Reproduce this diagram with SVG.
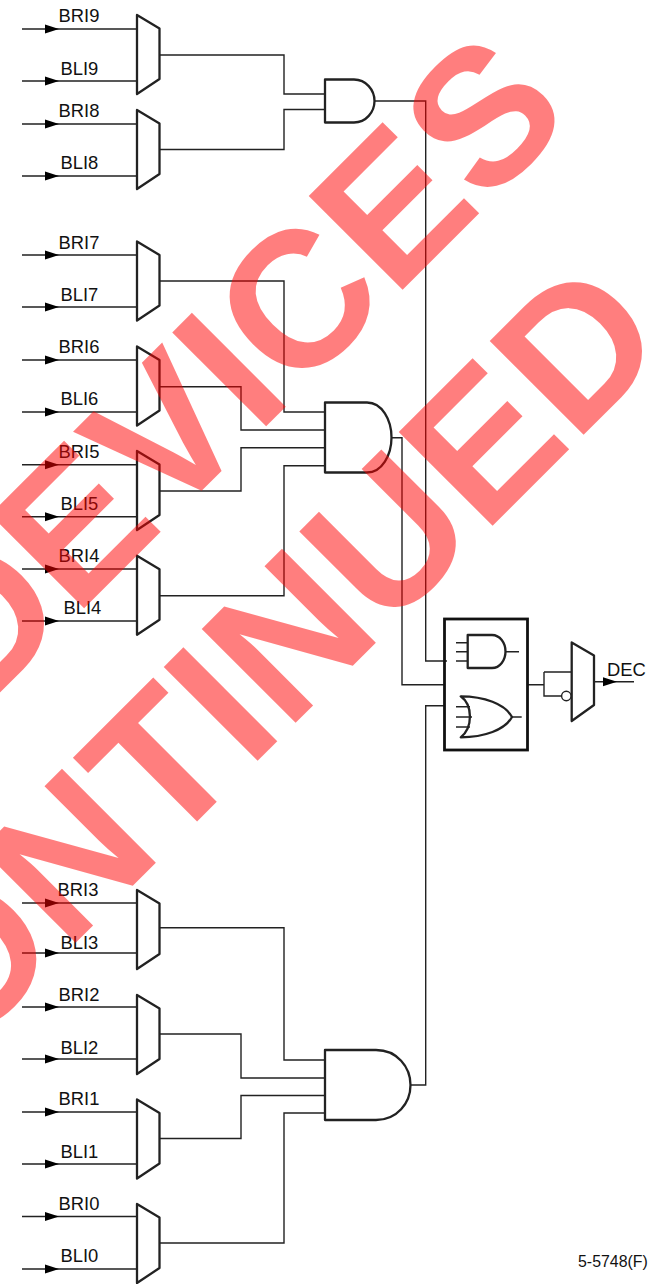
<svg xmlns="http://www.w3.org/2000/svg" width="655" height="1284" viewBox="0 0 655 1284">
<style>
text{font-family:"Liberation Sans",Arial,sans-serif;fill:#111}
.l{font-size:18.400px}
.w{fill:none;stroke:#222;stroke-width:1.4}
.g{fill:none;stroke:#222;stroke-width:2.3;stroke-linejoin:round}
.b{fill:none;stroke:#111;stroke-width:2.800}
.a{fill:#000}
.wm{font-family:"Liberation Sans",Arial,sans-serif;font-weight:700;font-size:193px;fill:#ff0000;opacity:.5}
</style>
<defs>
<path id="mux" class="g" d="M137 0L159.500 13.500V64L137 79Z"/>
<path id="arrow" class="a" d="M45 -4.500L59 0L45 4.500Z"/>
</defs>
<rect width="655" height="1284" fill="#fff"/>
<g id="connectors">
<path class="w" d="M22 29H137M22 81H137M22 124H137M22 176H137M22 255H137M22 307H137M22 360H137M22 412H137M22 464.700H137M22 516.700H137M22 569H137M22 621H137M22 903H137M22 953H137M22 1007H137M22 1059H137M22 1112H137M22 1164H137M22 1216.500H137M22 1269H137"/>
<path class="w" d="M160 55H284V94H325M160 149.500H284V109.500H325M160 281H284V412H325M160 386.700H241V430H325M160 491H241V447.700H325M160 595.700H284V465.700H325M160 927.700H284V1060H325M160 1034H241V1078H325M160 1138.500H241V1095.500H325M160 1243H284V1113H325"/>
<path class="w" d="M374 101H425.700V661H447M391.500 437.700H402V684.700H444M410 1085H425.700V705.700H444"/>
<path class="w" d="M527 684.700H544M544 672H572M544 672V696H562M594 681.700H634"/>
<g>
<use href="#arrow" y="29"/><use href="#arrow" y="81"/><use href="#arrow" y="124"/><use href="#arrow" y="176"/><use href="#arrow" y="255"/><use href="#arrow" y="307"/><use href="#arrow" y="360"/><use href="#arrow" y="412"/><use href="#arrow" y="464.700"/><use href="#arrow" y="516.700"/><use href="#arrow" y="569"/><use href="#arrow" y="621"/><use href="#arrow" y="903"/><use href="#arrow" y="953"/><use href="#arrow" y="1007"/><use href="#arrow" y="1059"/><use href="#arrow" y="1112"/><use href="#arrow" y="1164"/><use href="#arrow" y="1216.500"/><use href="#arrow" y="1269"/>
<use href="#arrow" x="558" y="681.700"/>
</g>
</g>
<g id="mux9"><use href="#mux" y="15"/><text class="l" x="58.500" y="21.700">BRI9</text><text class="l" x="60.500" y="75">BLI9</text></g>
<g id="mux8"><use href="#mux" y="110"/><text class="l" x="58.500" y="116.700">BRI8</text><text class="l" x="60.500" y="169">BLI8</text></g>
<g id="mux7"><use href="#mux" y="241.500"/><text class="l" x="58.500" y="249">BRI7</text><text class="l" x="60.500" y="301">BLI7</text></g>
<g id="mux6"><use href="#mux" y="346.500"/><text class="l" x="58.500" y="352.700">BRI6</text><text class="l" x="60.500" y="405">BLI6</text></g>
<g id="mux5"><use href="#mux" y="451"/><text class="l" x="58.500" y="458">BRI5</text><text class="l" x="60.500" y="510">BLI5</text></g>
<g id="mux4"><use href="#mux" y="555.700"/><text class="l" x="58.500" y="561.700">BRI4</text><text class="l" x="63.500" y="614">BLI4</text></g>
<g id="mux3"><use href="#mux" y="890"/><text class="l" x="57.500" y="896">BRI3</text><text class="l" x="60.500" y="949">BLI3</text></g>
<g id="mux2"><use href="#mux" y="995"/><text class="l" x="58.500" y="1001">BRI2</text><text class="l" x="60.500" y="1054">BLI2</text></g>
<g id="mux1"><use href="#mux" y="1099.500"/><text class="l" x="58.500" y="1105">BRI1</text><text class="l" x="60.500" y="1158">BLI1</text></g>
<g id="mux0"><use href="#mux" y="1204"/><text class="l" x="58.500" y="1210">BRI0</text><text class="l" x="60.500" y="1262">BLI0</text></g>
<g id="and-a"><path class="g" d="M325 79.500H354C366 79.500 374.500 90 374.500 101S366 122.500 354 122.500H325Z"/></g>
<g id="and-b"><path class="g" d="M325 402.500H367C382 402.500 391.500 420 391.500 437.500S382 472.500 367 472.500H325Z"/></g>
<g id="and-c"><path class="g" d="M325 1050H376C397 1050 410.500 1067 410.500 1085S397 1120 376 1120H325Z"/></g>
<g id="logic-block">
<rect class="b" x="444.500" y="619" width="83" height="131"/>
<path class="g" d="M467.700 635H492C500 635 505.500 643 505.500 651.500S500 668 492 668H467.700Z"/>
<path class="w" d="M456 642.700H467.700M456 651.700H467.700M456 661H467.700M505.500 651.700H519"/>
<path class="g" d="M460.700 696.300C484 696.300 505 704 512 717C505 730 484 737.300 460.700 737.300C473 728 473 705 460.700 696.300Z"/>
<path class="w" d="M456 706.700H470M456 717H472M456 727H470M512 717H521.700"/>
</g>
<g id="output-mux"><path class="g" d="M571.700 642.500L594 655.500V705L571.700 721Z"/><circle cx="566.300" cy="696" r="4.700" fill="#fff" stroke="#222" stroke-width="1.400"/><text class="l" x="607" y="675.700">DEC</text></g>
<text id="figure-id" x="578" y="1267" font-size="15.900">5-5748(F)</text>
<g id="watermark">
<text class="wm" transform="translate(-23.500 716) rotate(-45)">DEVICES</text>
<text class="wm" transform="translate(-365.600 1384.100) rotate(-45)">DISCONTINUED</text>
</g>
</svg>
